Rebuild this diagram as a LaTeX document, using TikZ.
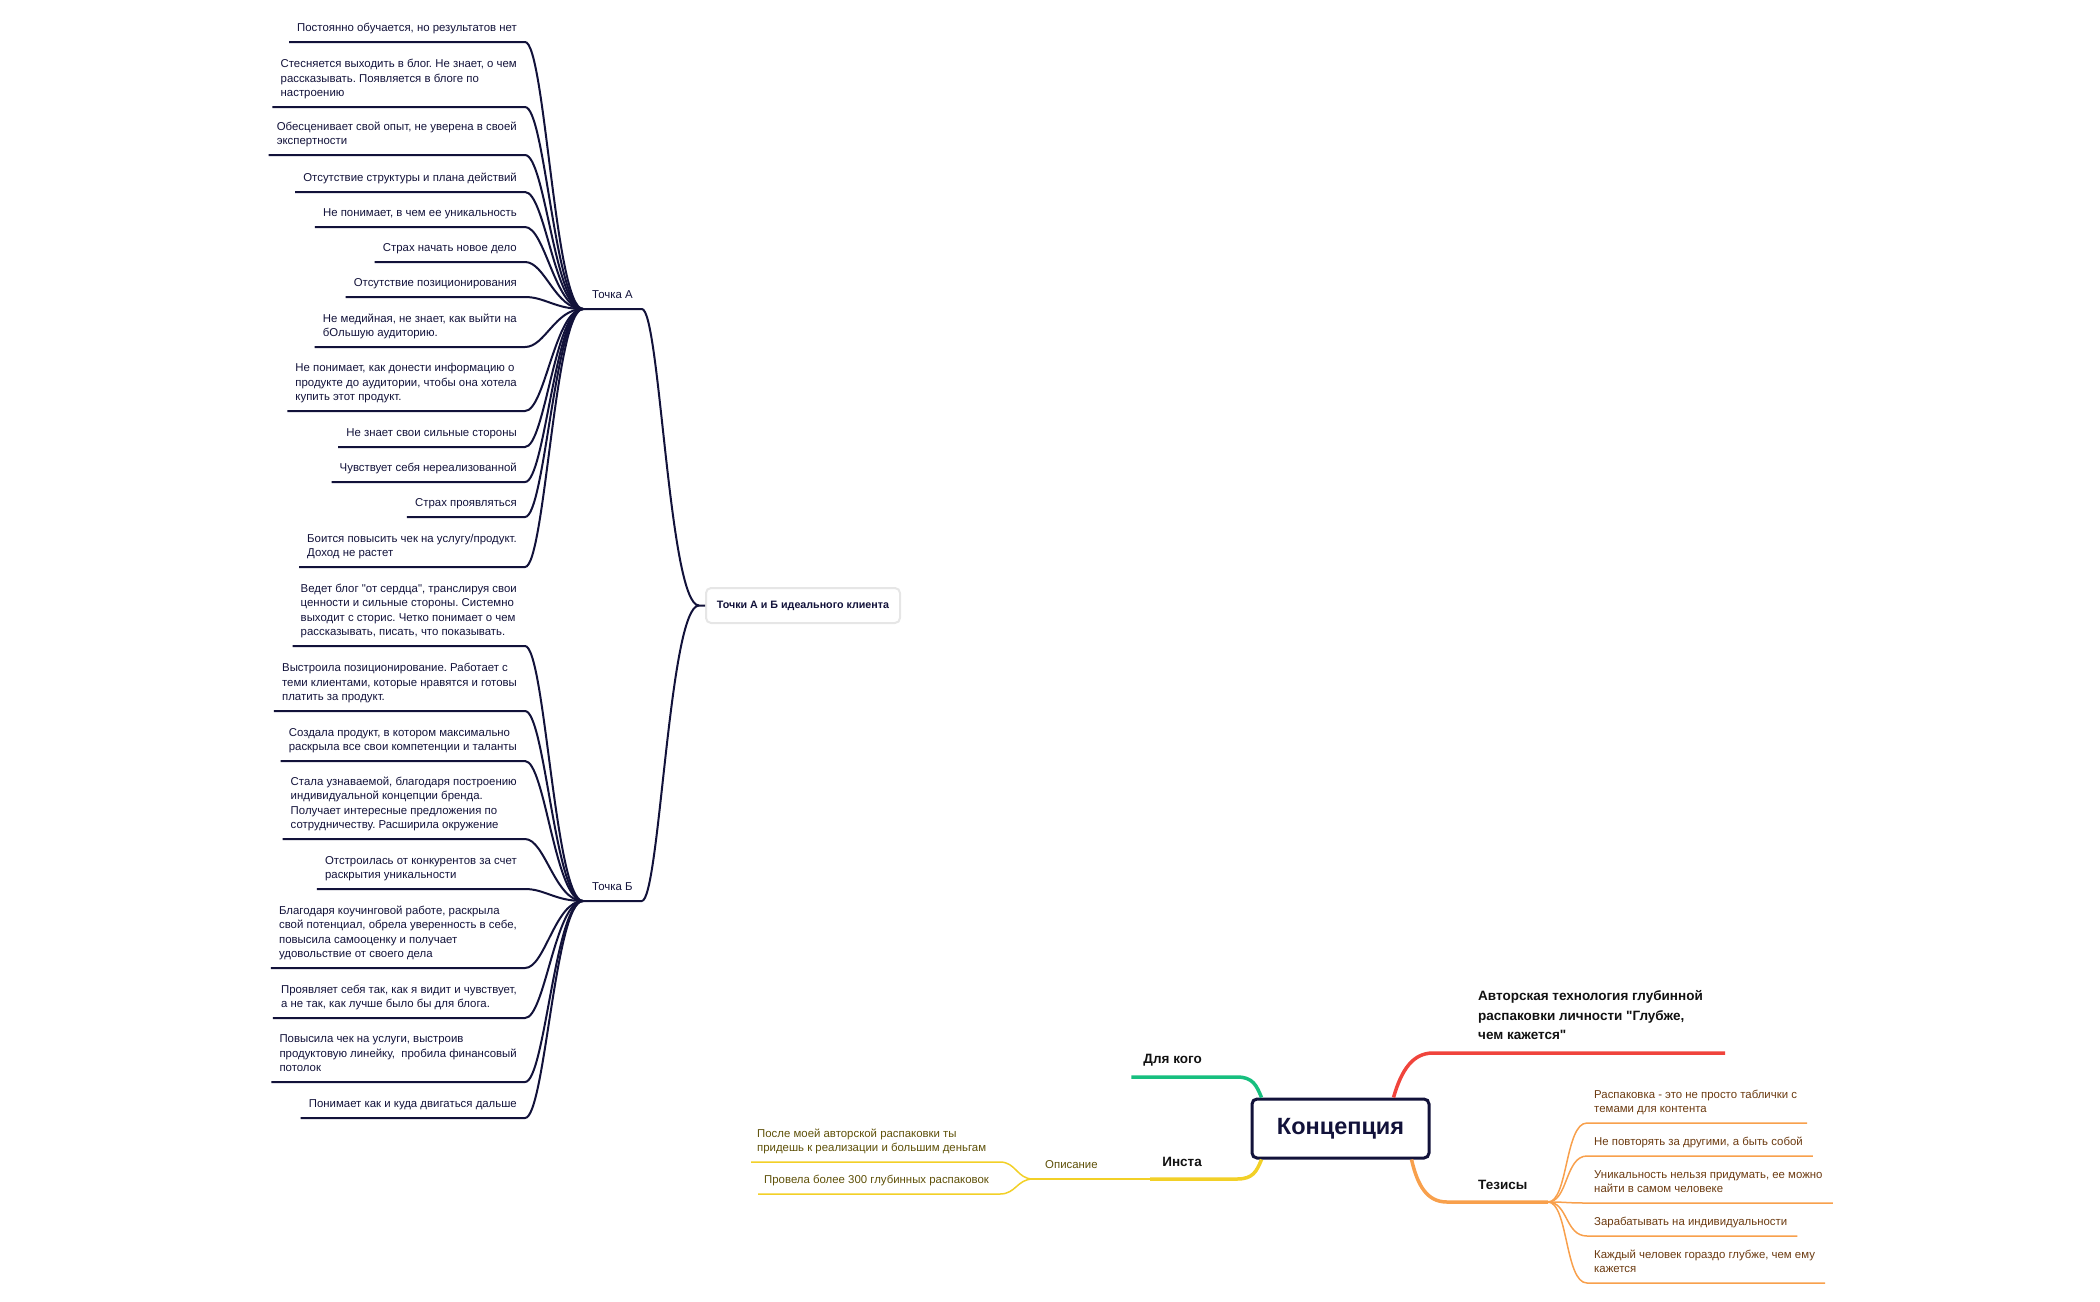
\documentclass[tikz,border=0pt]{standalone}
\usepackage{fontspec}
\setmainfont{Liberation Sans}[Ligatures=TeXOff]
\frenchspacing
\definecolor{navy}{HTML}{12123A}
\definecolor{ink}{HTML}{111111}
\definecolor{brownt}{HTML}{6B3A10}
\definecolor{olivet}{HTML}{5E5008}
\definecolor{gbranch}{HTML}{17BF7F}
\definecolor{ybranch}{HTML}{F2D027}
\definecolor{rbranch}{HTML}{F0443C}
\definecolor{obranch}{HTML}{F8A04C}
\definecolor{boxgray}{HTML}{E6E6E6}
\newcommand\itemfont{\fontsize{11.4pt}{14.5pt}\selectfont}
\newcommand\headfont{\fontsize{13.5pt}{19.5pt}\selectfont\bfseries}
\newcommand\dpstrut{\rule[-3pt]{0pt}{3pt}}
\tikzset{
  base item/.style={align=left, inner xsep=8pt, inner ysep=7pt, font=\itemfont, execute at end node=\dpstrut},
  itemL/.style={base item, anchor=south east, text=navy},
  itemR/.style={base item, anchor=south west, inner xsep=7pt, text=brownt},
  itemY/.style={base item, anchor=south west, inner xsep=6pt, text=olivet},
  head/.style={align=left, inner xsep=12pt, inner ysep=10pt, font=\headfont, text=ink, execute at end node=\dpstrut},
  dk/.style={draw=navy, line width=2pt},
  othin/.style={draw=obranch, line width=1.5pt},
  ythin/.style={draw=ybranch, line width=1.5pt},
}
\begin{document}
\begin{tikzpicture}[x=1pt,y=-1pt]
\useasboundingbox (0,0) rectangle (2100,1301);
% ---------------- junctions ----------------
\coordinate (ja) at (583,309);
\coordinate (jb) at (583,901);
\coordinate (jo) at (1033,1179);
\coordinate (jt) at (1548,1202);
\coordinate (cY) at (1000,0);
\coordinate (gbend) at (1237,1077);
\coordinate (ybend) at (1237,1179);
\coordinate (rbend) at (1433,1053);
\coordinate (obend) at (1447,1202);
% ---------------- Точка А items ----------------
\node[itemL] (a1) at (525,42) {Постоянно обучается, но результатов нет};
\node[itemL] (a2) at (525,107) {Стесняется выходить в блог. Не знает, о чем\\рассказывать. Появляется в блоге по\\настроению};
\node[itemL] (a3) at (525,155) {Обесценивает свой опыт, не уверена в своей\\экспертности};
\node[itemL] (a4) at (525,192) {Отсутствие структуры и плана действий};
\node[itemL] (a5) at (525,227) {Не понимает, в чем ее уникальность};
\node[itemL] (a6) at (525,262) {Страх начать новое дело};
\node[itemL] (a7) at (525,297) {Отсутствие позиционирования};
\node[itemL] (a8) at (525,347) {Не медийная, не знает, как выйти на\\бОльшую аудиторию.};
\node[itemL] (a9) at (525,411) {Не понимает, как донести информацию о\\продукте до аудитории, чтобы она хотела\\купить этот продукт.};
\node[itemL] (a10) at (525,447) {Не знает свои сильные стороны};
\node[itemL] (a11) at (525,482) {Чувствует себя нереализованной};
\node[itemL] (a12) at (525,517) {Страх проявляться};
\node[itemL] (a13) at (525,567) {Боится повысить чек на услугу/продукт.\\Доход не растет};
\foreach \n in {a1,a2,a3,a4,a5,a6,a7,a8,a9,a10,a11,a12,a13}{
  \draw[dk] (\n.south west) -- (\n.south east) .. controls +(20,0) and +(-28,0) .. (ja);
}
% ---------------- Точка Б items ----------------
\node[itemL] (b1) at (525,646) {Ведет блог "от сердца", транслируя свои\\ценности и сильные стороны. Системно\\выходит с сторис. Четко понимает о чем\\рассказывать, писать, что показывать.};
\node[itemL] (b2) at (525,711) {Выстроила позиционирование. Работает с\\теми клиентами, которые нравятся и готовы\\платить за продукт.};
\node[itemL] (b3) at (525,761) {Создала продукт, в котором максимально\\раскрыла все свои компетенции и таланты};
\node[itemL] (b4) at (525,839) {Стала узнаваемой, благодаря построению\\индивидуальной концепции бренда.\\Получает интересные предложения по\\сотрудничеству. Расширила окружение};
\node[itemL] (b5) at (525,889) {Отстроилась от конкурентов за счет\\раскрытия уникальности};
\node[itemL] (b6) at (525,968) {Благодаря коучинговой работе, раскрыла\\свой потенциал, обрела уверенность в себе,\\повысила самооценку и получает\\удовольствие от своего дела};
\node[itemL] (b7) at (525,1018) {Проявляет себя так, как я видит и чувствует,\\а не так, как лучше было бы для блога.};
\node[itemL] (b8) at (525,1082) {Повысила чек на услуги, выстроив\\продуктовую линейку,\ \ пробила финансовый\\потолок};
\node[itemL] (b9) at (525,1118) {Понимает как и куда двигаться дальше};
\foreach \n in {b1,b2,b3,b4,b5,b6,b7,b8,b9}{
  \draw[dk] (\n.south west) -- (\n.south east) .. controls +(20,0) and +(-28,0) .. (jb);
}
% ---------------- Точка А / Б and box ----------------
\node[base item, anchor=south west, inner xsep=9pt, text=navy] (ta) at (ja) {Точка А};
\node[base item, anchor=south west, inner xsep=9pt, text=navy] (tb) at (jb) {Точка Б};
\node[draw=boxgray, line width=2pt, rounded corners=5pt, fill=white, minimum width=194pt, minimum height=35pt, inner sep=0pt, font=\fontsize{10.7pt}{12pt}\selectfont\bfseries, text=navy] (tab) at (803,605.5) {Точки А и Б идеального клиента};
\coordinate (tabin) at ([xshift=-6pt]tab.west);
\draw[dk] (ja) -- (ta.south east) .. controls +(18,0) and +(-30,0) .. (tabin) -- (tab.west);
\draw[dk] (jb) -- (tb.south east) .. controls +(18,0) and +(-30,0) .. (tabin);
% ---------------- Концепция branches ----------------
\node[draw=navy, line width=3pt, rounded corners=5pt, fill=white, minimum width=177pt, minimum height=59pt, inner sep=0pt, font=\fontsize{23.5pt}{26pt}\selectfont\bfseries, text=navy] (conc) at (1340.5,1128.5) {Концепция};
\coordinate (cg) at ([xshift=11pt]conc.north west);
\coordinate (cyy) at ([xshift=11pt]conc.south west);
\coordinate (crr) at ([xshift=-37pt]conc.north east);
\coordinate (coo) at ([xshift=-19pt]conc.south east);
% Для кого
\node[head, anchor=south east] (dk) at (1214,1077) {Для кого};
\draw[draw=gbranch, line width=3.5pt] (dk.south west) -- (gbend) .. controls +(16,0) and +(-5,-12) .. (cg);
% Инста + Описание
\node[head, anchor=south east, inner ysep=9pt] (insta) at (1214,1179) {Инста};
\node[base item, anchor=south west, inner xsep=12pt, text=olivet] (op) at (jo) {Описание};
\draw[ythin] (jo) -- (op.south east) -- (insta.south west);
\draw[draw=ybranch, line width=3.5pt] (insta.south west) -- (ybend) .. controls +(16,0) and +(-5,12) .. (cyy);
\node[itemY] (y1) at (751,1162) {После моей авторской распаковки ты\\придешь к реализации и большим деньгам};
\node[itemY] (y2) at (758,1194) {Провела более 300 глубинных распаковок};
\draw[ythin] (y1.south west) -- (y1.south west -| cY) .. controls +(16,0) and +(-16,0) .. (jo);
\draw[ythin] (y2.south west) -- (y2.south west -| cY) .. controls +(16,0) and +(-16,0) .. (jo);
% Авторская технология
\node[head, anchor=south west] (tech) at (1466,1053) {Авторская технология глубинной\\распаковки личности "Глубже,\\чем кажется"};
\draw[draw=rbranch, line width=3.5pt] (crr) .. controls +(8,-28) and +(-20,0) .. (rbend) -- (tech.south west) -- ([xshift=10pt]tech.south east);
% Тезисы
\node[head, anchor=south west, inner ysep=9pt] (tez) at (1466,1202) {Тезисы};
\draw[draw=obranch, line width=3.5pt] (coo) .. controls +(6,26) and +(-20,0) .. (obend) -- (jt);
\node[itemR] (t1) at (1587,1123) {Распаковка - это не просто таблички с\\темами для контента};
\node[itemR] (t2) at (1587,1156) {Не повторять за другими, а быть собой};
\node[itemR] (t3) at (1587,1203) {Уникальность нельзя придумать, ее можно\\найти в самом человеке};
\node[itemR] (t4) at (1587,1236) {Зарабатывать на индивидуальности};
\node[itemR] (t5) at (1587,1283) {Каждый человек гораздо глубже, чем ему\\кажется};
\foreach \n in {t1,t2,t3,t4,t5}{
  \draw[othin] (jt) .. controls +(20,0) and +(-22,0) .. (\n.south west) -- ([xshift=3pt]\n.south east);
}
\end{tikzpicture}
\end{document}
